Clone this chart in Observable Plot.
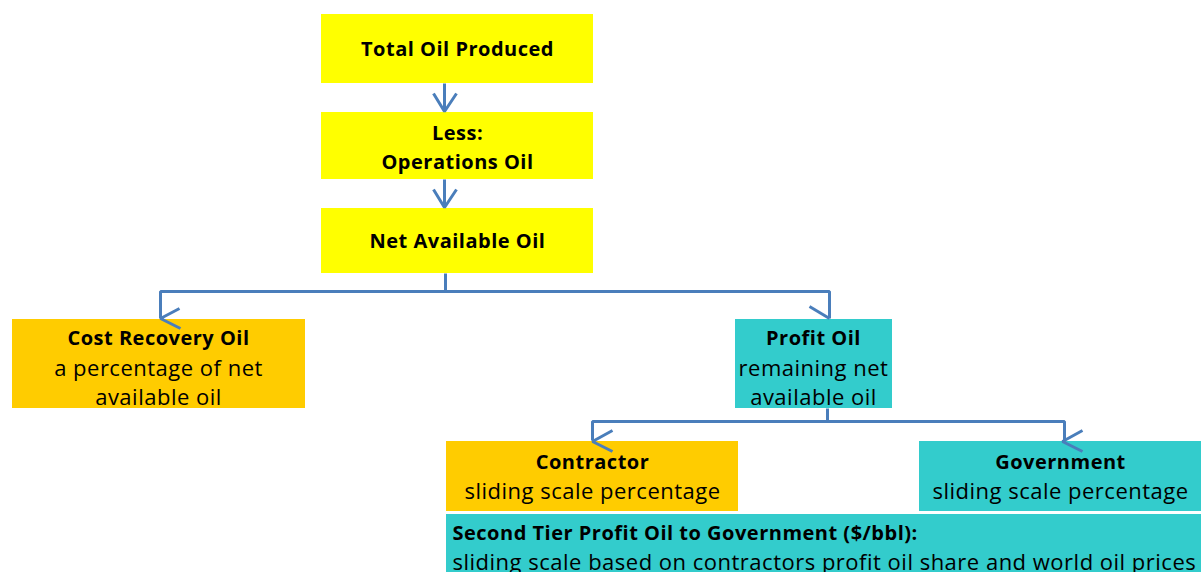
<!DOCTYPE html>
<html>
<head>
<meta charset="utf-8">
<script src="https://cdn.jsdelivr.net/npm/d3@7"></script>
<script src="https://cdn.jsdelivr.net/npm/@observablehq/plot@0.6"></script>
<style>
  html, body { margin: 0; padding: 0; background: #fff; }
  #chart svg { display: block; }
  #chart svg text { letter-spacing: 0.5px; }
</style>
</head>
<body>
<div id="chart"></div>
<script>
// ---- content (flowchart nodes) ----
const nodeIds    = ["total", "less", "net", "cost", "profit", "contractor", "government", "tier"];
const nodeTitles = ["Total Oil Produced", "Less:", "Net Available Oil", "Cost Recovery Oil", "Profit Oil", "Contractor", "Government", "Second Tier Profit Oil to Government ($/bbl):"];
const nodeLines2 = ["", "Operations Oil", "", "a percentage of net", "remaining net", "sliding scale percentage", "sliding scale percentage", "sliding scale based on contractors profit oil share and world oil prices"];
const nodeLines3 = ["", "", "", "available oil", "available oil", "", "", ""];
const nodeKind   = ["main", "main", "main", "contractor", "government", "contractor", "government", "government"];
// edges: parent -> child
const edgeFrom = ["total", "less", "net", "net", "profit", "profit"];
const edgeTo   = ["less", "net", "cost", "profit", "contractor", "government"];

// ---- layout (diagram geometry, pixel space) ----
const layout = {
  total:      {x1: 321, x2: 593, y1: 14,  y2: 83,  tx: 457, ty: [49]},
  less:       {x1: 321, x2: 593, y1: 112, y2: 179, tx: 457, ty: [133, 162]},
  net:        {x1: 321, x2: 593, y1: 208, y2: 273, tx: 457, ty: [241]},
  cost:       {x1: 12,  x2: 305, y1: 319, y2: 408, tx: 158, ty: [338, 368, 397]},
  profit:     {x1: 735, x2: 892, y1: 319, y2: 408, tx: 813, ty: [338, 368, 397]},
  contractor: {x1: 446, x2: 738, y1: 441, y2: 511, tx: 592, ty: [462, 491]},
  government: {x1: 919, x2: 1201, y1: 441, y2: 511, tx: 1060, ty: [462, 491]},
  tier:       {x1: 446, x2: 1201, y1: 514, y2: 572, tx: 452, ty: [533, 562], anchor: "start"}
};
const kindFill = {main: "#FFFF00", contractor: "#FFCC00", government: "#33CCCC"};

const boxes = nodeIds.map((id, i) => ({id, kind: nodeKind[i], ...layout[id]}));

const texts = [];
nodeIds.forEach((id, i) => {
  const L = layout[id];
  const lines = [[nodeTitles[i], true], [nodeLines2[i], id === "less"], [nodeLines3[i], false]].filter(d => d[0]);
  lines.forEach(([t, bold], j) => texts.push({x: L.tx, y: L.ty[j], text: t, bold, anchor: L.anchor || "middle"}));
});

// connector routing (elbow connectors as drawn in the source)
const segs = [];
let sid = 0;
function seg(pts) { sid++; pts.forEach(([x, y]) => segs.push({x, y, s: sid})); }
// vertical arrows in the main column
seg([[444, 83], [444, 111]]);   seg([[433, 93], [444, 111], [456, 93]]);
seg([[444, 179], [444, 207]]);  seg([[433, 189], [444, 207], [456, 189]]);
// net -> cost / profit
seg([[445, 273], [445, 291]]);
seg([[160, 318], [160, 291], [829, 291], [829, 318]]);
seg([[179, 308], [160, 318], [180, 328]]);
seg([[809, 306], [829, 318]]);
// profit -> contractor / government
seg([[827, 408], [827, 421]]);
seg([[592, 440], [592, 421], [1064, 421], [1064, 440]]);
seg([[612, 430], [592, 441], [612, 451]]);
seg([[1082, 430], [1062, 441], [1082, 451]]);

const font = "'Open Sans', sans-serif";
const textOpts = (bold, anchor) => ({
  x: "x", y: "y", text: "text", textAnchor: anchor, lineAnchor: "middle", fill: "#000",
  fontWeight: bold ? "bold" : "normal", fontSize: bold ? 20 : 22
});
const textMarks = [];
for (const bold of [true, false]) {
  for (const anchor of ["middle", "start"]) {
    const sub = texts.filter(d => d.bold === bold && d.anchor === anchor);
    if (sub.length) textMarks.push(Plot.text(sub, textOpts(bold, anchor)));
  }
}

const chart = Plot.plot({
  width: 1201,
  height: 572,
  margin: 0,
  x: {domain: [0, 1201], axis: null},
  y: {domain: [0, 572], reverse: true, axis: null},
  style: {fontFamily: font, background: "#fff"},
  marks: [
    Plot.rect(boxes, {x1: "x1", x2: "x2", y1: "y1", y2: "y2", fill: d => kindFill[d.kind]}),
    Plot.line(segs, {x: "x", y: "y", z: "s", stroke: "#4A7EBB", strokeWidth: 3, strokeLinejoin: "miter", strokeLinecap: "butt"}),
    ...textMarks
  ]
});
document.getElementById("chart").appendChild(chart);
</script>
</body>
</html>
